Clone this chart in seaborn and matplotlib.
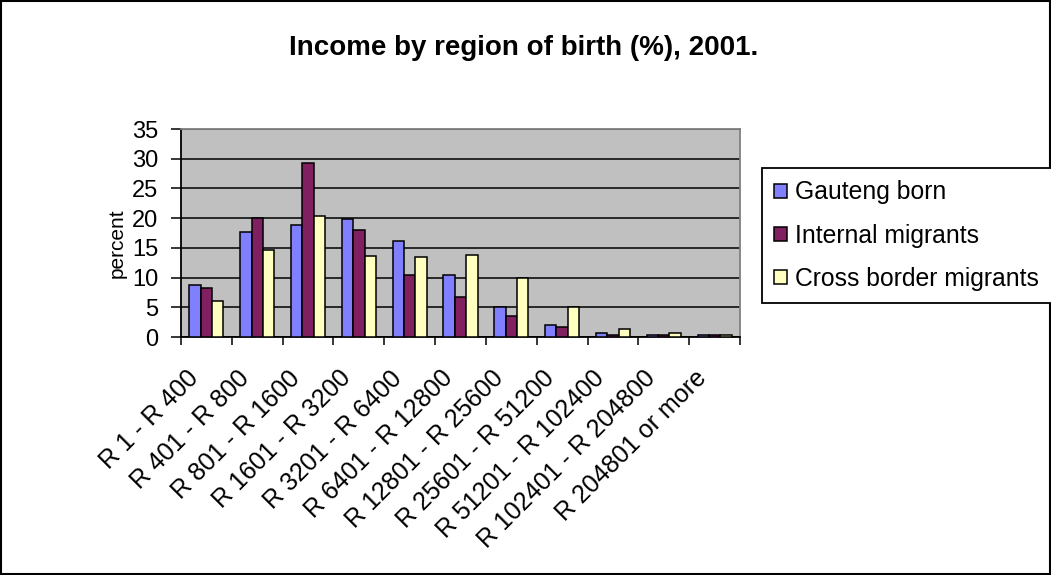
import pandas as pd
import matplotlib
matplotlib.use('Agg')
import matplotlib.pyplot as plt
import matplotlib.transforms as mtransforms
from matplotlib.patches import Rectangle
import seaborn as sns

# data
income_bands = ['R 1 - R 400', 'R 401 - R 800', 'R 801 - R 1600', 'R 1601 - R 3200',
                'R 3201 - R 6400', 'R 6401 - R 12800', 'R 12801 - R 25600',
                'R 25601 - R 51200', 'R 51201 - R 102400', 'R 102401 - R 204800',
                'R 204801 or more']
gauteng_born = [8.7, 17.7, 18.8, 19.8, 16.1, 10.4, 5.0, 2.0, 0.7, 0.3, 0.3]
internal_migrants = [8.3, 20.1, 29.2, 18.0, 10.4, 6.7, 3.6, 1.6, 0.4, 0.3, 0.3]
cross_border = [6.0, 14.7, 20.4, 13.7, 13.4, 13.8, 10.0, 5.0, 1.3, 0.7, 0.3]
series_names = ['Gauteng born', 'Internal migrants', 'Cross border migrants']
colors = ['#8080FF', '#802060', '#FFFFC0']

df = pd.DataFrame({
    'income': income_bands * 3,
    'percent': gauteng_born + internal_migrants + cross_border,
    'group': [s for s in series_names for _ in income_bands],
})

sns.set_style('white')
plt.rcParams['font.family'] = ['Liberation Sans', 'DejaVu Sans']
plt.rcParams['text.color'] = 'black'
plt.rcParams['xtick.color'] = 'black'
plt.rcParams['ytick.color'] = 'black'
plt.rcParams['xtick.labelcolor'] = 'black'
plt.rcParams['ytick.labelcolor'] = 'black'

fig = plt.figure(figsize=(10.51, 5.75), dpi=100)
ax = fig.add_axes([181 / 1051, 1 - 337 / 575, 559 / 1051, 208 / 575])
ax.set_facecolor('#C0C0C0')

sns.barplot(data=df, x='income', y='percent', hue='group', palette=colors,
            order=income_bands, hue_order=series_names, width=0.67, gap=0,
            edgecolor='black', linewidth=1.1, saturation=1, ax=ax, zorder=3)

ax.set_ylim(0, 35)
ax.set_xlim(-0.5, 10.5)
ax.set_yticks(range(0, 36, 5))
ax.yaxis.grid(True, color='black', linewidth=1.1, zorder=0)
ax.set_axisbelow(True)
ax.tick_params(axis='y', labelsize=17, length=7, width=1.1, color='black',
               direction='out', left=True, pad=9.5)

ax.set_xticks(range(len(income_bands)))
ax.set_xticklabels(income_bands, rotation=45, ha='right', va='center',
                   rotation_mode='anchor', fontsize=18)
ax.tick_params(axis='x', which='major', length=0, pad=27)
ax.set_xticks([i - 0.5 for i in range(len(income_bands) + 1)], minor=True)
ax.tick_params(axis='x', which='minor', length=6, width=1.1, color='black',
               direction='out', bottom=True)
offset = mtransforms.ScaledTranslation(-12 / 100, 0, fig.dpi_scale_trans)
for lab in ax.get_xticklabels():
    lab.set_transform(lab.get_transform() + offset)

ax.set_xlabel('')
ax.set_ylabel('')
for side in ['left', 'bottom']:
    ax.spines[side].set_color('black')
    ax.spines[side].set_linewidth(1.3)
for side in ['top', 'right']:
    ax.spines[side].set_color('#808080')
    ax.spines[side].set_linewidth(1.3)

fig.text(0.5 * (290 + 757) / 1051, 1 - 48 / 575, 'Income by region of birth (%), 2001.',
         ha='center', va='center', fontsize=20, fontweight='bold')
fig.text(117 / 1051, 1 - 243 / 575, 'percent', rotation=90, ha='center',
         va='center', fontsize=15)

# legend box runs off the right edge, as in the original
handles, labels = ax.get_legend_handles_labels()
ax.legend_.remove()
leg = fig.legend(handles, labels, loc='upper left', mode='expand',
                 bbox_to_anchor=(762 / 1051, 1 - 168 / 575 - 0.01, 310 / 1051, 0.01),
                 fontsize=17.8, frameon=True, fancybox=False, framealpha=1,
                 edgecolor='black', handlelength=0.5, handleheight=0.5,
                 handletextpad=0.35, labelspacing=0.78, borderpad=0.5,
                 borderaxespad=0)
leg.get_frame().set_linewidth(1.3)

fig.patches.append(Rectangle((0.001, 0.001), 0.998, 0.998, transform=fig.transFigure,
                             fill=False, edgecolor='black', linewidth=1.5))

fig.savefig('out.png', dpi=100)
